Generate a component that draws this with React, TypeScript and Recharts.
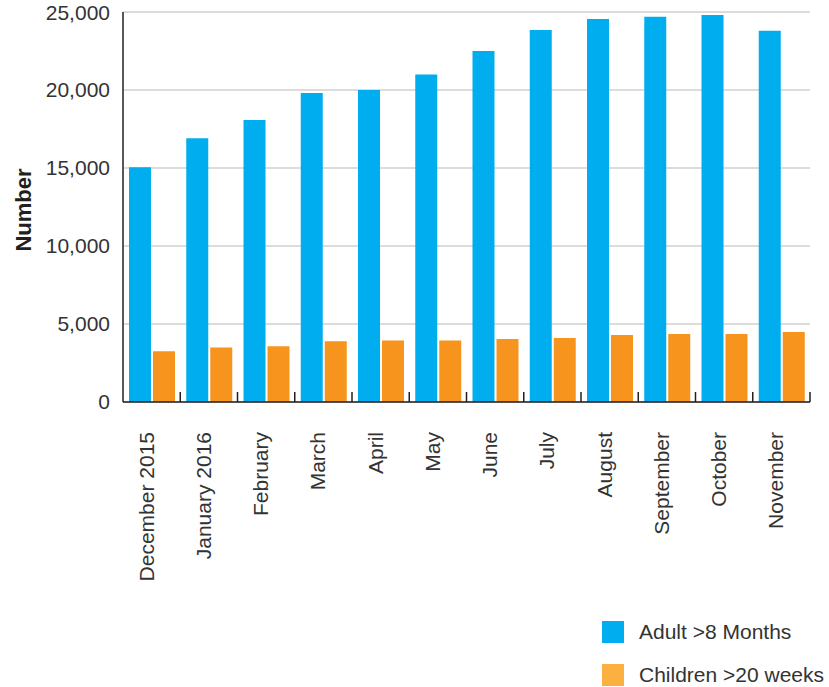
import { Bar, BarChart, CartesianGrid, Legend, XAxis, YAxis } from "recharts";

const months = [
  "December 2015",
  "January 2016",
  "February",
  "March",
  "April",
  "May",
  "June",
  "July",
  "August",
  "September",
  "October",
  "November",
];
const adult = [15050, 16900, 18080, 19800, 20000, 21000, 22500, 23850, 24550, 24700, 24800, 23800];
const children = [3250, 3500, 3580, 3900, 3950, 3950, 4040, 4100, 4300, 4360, 4360, 4480];
const yTicks = [0, 5000, 10000, 15000, 20000, 25000];
const seriesNames = ["Adult >8 Months", "Children >20 weeks"];
const barColors = ["#00aeef", "#f7941d"];
const legendColors = ["#00aeef", "#fbb040"];

const data = months.map((month, i) => ({
  month,
  adult: adult[i],
  children: children[i],
}));

const FONT = '"Liberation Sans", Arial, Helvetica, sans-serif';
const TEXT = "#333333";
const AXIS = "#231f20";
const W = 829;
const H = 687;
const MARGIN = { top: 12, right: 19, left: 0, bottom: 0 };
const Y_AXIS_W = 123;
const BAND = (W - MARGIN.left - MARGIN.right - Y_AXIS_W) / months.length;

function MonthTick(props: any) {
  const { x, y, payload } = props;
  const edge = x + BAND / 2;
  const ly = y + 30;
  return (
    <g>
      <line x1={edge} y1={y} x2={edge} y2={y - 10} stroke={AXIS} strokeWidth={1.5} />
      <text
        x={x + 2}
        y={ly}
        transform={`rotate(-90, ${x + 2}, ${ly})`}
        textAnchor="end"
        fontSize={21}
        fontFamily={FONT}
        fill={TEXT}
      >
        {payload.value}
      </text>
    </g>
  );
}

function AxisTitle(props: any) {
  const vb = props.viewBox ?? { y: MARGIN.top, height: 390 };
  const cy = vb.y + vb.height / 2 + 3;
  return (
    <text
      x={31}
      y={cy}
      transform={`rotate(-90, 31, ${cy})`}
      textAnchor="middle"
      fontSize={22}
      fontWeight="bold"
      fontFamily={FONT}
      fill="#231f20"
    >
      Number
    </text>
  );
}

function LegendBox() {
  return (
    <div style={{ fontFamily: FONT, fontSize: 21, color: TEXT }}>
      {seriesNames.map((name, i) => (
        <div
          key={name}
          style={{ display: "flex", alignItems: "center", height: 22, marginBottom: i === 0 ? 21 : 0 }}
        >
          <span
            style={{ display: "inline-block", width: 22, height: 22, background: legendColors[i], marginRight: 15 }}
          />
          <span style={{ whiteSpace: "nowrap" }}>{name}</span>
        </div>
      ))}
    </div>
  );
}

export default function App() {
  return (
    <div style={{ position: "absolute", left: 0, top: 0, background: "#fff" }}>
      <BarChart width={W} height={H} data={data} margin={MARGIN} barCategoryGap={6} barGap={2}>
        <CartesianGrid vertical={false} stroke="#dcdcdc" strokeWidth={2} />
        <XAxis
          dataKey="month"
          interval={0}
          height={285}
          tickLine={false}
          tickSize={0}
          tickMargin={0}
          axisLine={{ stroke: AXIS, strokeWidth: 1.5 }}
          tick={<MonthTick />}
        />
        <YAxis
          width={Y_AXIS_W}
          domain={[0, 25000]}
          ticks={yTicks}
          tickLine={false}
          tickSize={0}
          tickMargin={13}
          axisLine={{ stroke: AXIS, strokeWidth: 1.5 }}
          tick={{ fontSize: 21, fontFamily: FONT, fill: TEXT }}
          tickFormatter={(v) => Number(v).toLocaleString("en-US")}
          label={<AxisTitle />}
        />
        <Legend
          layout="vertical"
          align="center"
          verticalAlign="middle"
          content={<LegendBox />}
          wrapperStyle={{ left: 602, top: 621, width: 227 }}
        />
        <Bar dataKey="adult" name={seriesNames[0]} fill={barColors[0]} isAnimationActive={false} />
        <Bar dataKey="children" name={seriesNames[1]} fill={barColors[1]} isAnimationActive={false} />
      </BarChart>
    </div>
  );
}
